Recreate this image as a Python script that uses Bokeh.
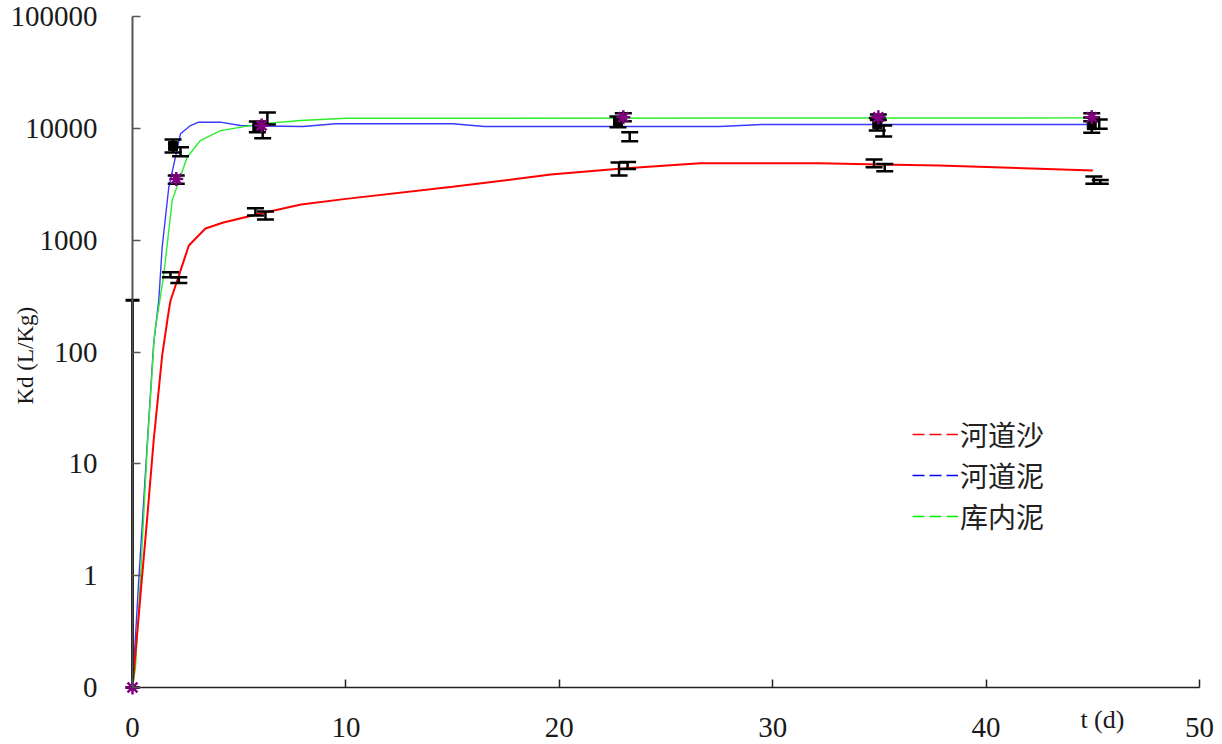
import numpy as np
from bokeh.plotting import figure
from bokeh.models import (FixedTicker, CustomJSTickFormatter, Label, Legend,
                          LegendItem, Range1d)
from bokeh.embed import file_html
from bokeh.resources import INLINE

# ---------------- data ----------------
x_ticks = [0, 10, 20, 30, 40, 50]
y_ticks = [0.1, 1, 10, 100, 1000, 10000, 100000]
y_tick_labels = ["0", "1", "10", "100", "1000", "10000", "100000"]

legend_names = ["河道沙", "河道泥", "库内泥"]
legend_colors = ["#ff0000", "#0000ff", "#00ee00"]

# fitted curves
red_curve_t = [0, 0.38, 0.69, 0.99, 1.39, 1.70, 1.78, 2.64, 3.42, 4.26, 6.0, 7.9,
               10, 15, 19.6, 22.8, 26.6, 32.2, 35.0, 37.8, 45.0]
red_curve_kd = [0.1, 0.69, 3.3, 16, 93, 234, 287, 895, 1270, 1440, 1730, 2080,
                2340, 3000, 3860, 4345, 4880, 4880, 4745, 4650, 4190]

blue_curve_t = [0, 0.30, 0.69, 0.99, 1.23, 1.39, 1.70, 2.25, 2.72, 3.1, 4.12, 5.06,
                6.0, 8.0, 9.5, 15.0, 16.5, 27.5, 29.5, 45.0]
blue_curve_kd = [0.1, 0.96, 15, 118, 288, 863, 2970, 8930, 10590, 11350, 11350, 10590,
                 10500, 10400, 11000, 11000, 10400, 10400, 10820, 10820]

green_curve_t = [0, 0.14, 0.375, 0.69, 1.03, 1.28, 1.47, 1.86, 2.56, 3.18, 4.12, 6.0,
                 7.87, 10.0, 45.0]
green_curve_kd = [0.1, 0.15, 0.96, 14, 145, 288, 499, 2260, 5510, 7780, 9550, 10960,
                  11740, 12300, 12400]

# measured points with error bars
blue_a_t = [1.9, 5.85, 22.75, 34.9, 44.95]
blue_a_kd = [6950, 10300, 11430, 10900, 10670]
blue_a_lo = [6070, 9230, 10230, 9580, 9120]
blue_a_hi = [7940, 11500, 12760, 12400, 12500]

blue_b_t = [2.25, 6.1, 23.3, 35.2, 45.3]
blue_b_lo = [5620, 8150, 7670, 8450, 9910]
blue_b_hi = [6780, 10820, 9230, 10600, 12000]

green_t = [0, 2.05, 6.05, 23.0, 34.95, 44.95]
green_kd = [0.1, 3530, 10600, 12570, 12570, 12570]
green_bar_t = [2.05, 6.32, 23.0, 34.95, 44.95]
green_bar_lo = [3190, 10820, 11570, 11900, 11570]
green_bar_hi = [3790, 13830, 13650, 13270, 13650]

red_a_t = [1.78, 5.76, 22.8, 34.75, 45.05]
red_a_lo = [466, 1660, 3790, 4490, 3190]
red_a_hi = [516, 1928, 4940, 5260, 3710]

red_b_t = [2.17, 6.23, 23.2, 35.25, 45.35]
red_b_lo = [415, 1530, 4330, 4130, 3190]
red_b_hi = [466, 1800, 5000, 4810, 3460]

zero_t = [0]
zero_lo = [0.1]
zero_hi = [290]

# ---------------- layout geometry ----------------
X_MIN, X_MAX = 0, 50
Y_MIN, Y_MAX = 0.1, 100000
AXIS_LEFT_PX = 132            # page x of t = 0
AXIS_RIGHT_PX = 1199          # page x of t = 50
AXIS_TOP_PX = 16              # page y of 100000
AXIS_BOTTOM_PX = 687          # page y of the bottom ("0") line
FRAME_W = 1218
FRAME_H = 744
px_per_x = (AXIS_RIGHT_PX - AXIS_LEFT_PX) / (X_MAX - X_MIN)
decade_px = (AXIS_BOTTOM_PX - AXIS_TOP_PX) / 6
x_start = X_MIN - AXIS_LEFT_PX / px_per_x
x_end = X_MAX + (FRAME_W - AXIS_RIGHT_PX) / px_per_x
y_start = Y_MIN * 10 ** (-(FRAME_H - AXIS_BOTTOM_PX) / decade_px)
y_end = Y_MAX * 10 ** (AXIS_TOP_PX / decade_px)

p = figure(frame_width=FRAME_W, frame_height=FRAME_H, y_axis_type="log",
           x_range=Range1d(x_start, x_end), y_range=Range1d(y_start, y_end),
           output_backend="svg", toolbar_location=None, min_border=0)
p.outline_line_color = None
p.grid.visible = False

TICK_FONT = "Liberation Serif"

xa = p.xaxis[0]
xa.fixed_location = Y_MIN
xa.bounds = (X_MIN, X_MAX)
xa.ticker = FixedTicker(ticks=x_ticks)
xa.major_tick_in = 8
xa.major_tick_out = 0
xa.minor_tick_line_color = None
xa.axis_line_color = "#222222"
xa.axis_line_width = 1.5
xa.major_tick_line_color = "#222222"
xa.major_tick_line_width = 1.5
xa.major_label_text_font = TICK_FONT
xa.major_label_text_font_size = "29px"
xa.major_label_text_color = "#1a1a1a"
xa.major_label_standoff = 30

ya = p.yaxis[0]
ya.fixed_location = X_MIN
ya.bounds = (Y_MIN, Y_MAX)
ya.ticker = FixedTicker(ticks=y_ticks)
ya.formatter = CustomJSTickFormatter(
    args=dict(tvals=y_ticks, tlabels=y_tick_labels),
    code="""
    for (let i = 0; i < tvals.length; i++) {
        if (Math.abs(Math.log10(tvals[i]) - Math.log10(tick)) < 1e-6) return tlabels[i];
    }
    return '';
    """)
ya.major_tick_in = 8
ya.major_tick_out = 0
ya.minor_tick_line_color = None
ya.axis_line_color = "#555555"
ya.axis_line_width = 2
ya.major_tick_line_color = "#555555"
ya.major_tick_line_width = 1.5
ya.major_label_text_font = TICK_FONT
ya.major_label_text_font_size = "29px"
ya.major_label_text_color = "#1a1a1a"
ya.major_label_standoff = 35

# curves
p.line(blue_curve_t, blue_curve_kd, line_color="#3a3aff", line_width=1.4)
p.line(green_curve_t, green_curve_kd, line_color="#2aee2a", line_width=1.4)
p.line(red_curve_t, red_curve_kd, line_color="#ff0000", line_width=2)


def errbar(t, lo, hi, width=2.5, cap=17):
    p.segment(x0=t, y0=lo, x1=t, y1=hi, line_color="black", line_width=width)
    p.scatter(x=t, y=lo, marker="dash", size=cap, line_color="black", line_width=width)
    p.scatter(x=t, y=hi, marker="dash", size=cap, line_color="black", line_width=width)


errbar(zero_t, zero_lo, zero_hi, width=3, cap=14)
errbar(red_a_t, red_a_lo, red_a_hi)
errbar(red_b_t, red_b_lo, red_b_hi)
errbar(blue_a_t, blue_a_lo, blue_a_hi)
errbar(blue_b_t, blue_b_lo, blue_b_hi)
errbar(green_bar_t, green_bar_lo, green_bar_hi)

p.scatter(blue_a_t, blue_a_kd, marker="square", size=9, color="black")
p.scatter(green_t, green_kd, marker="asterisk", size=14, line_color="#800080",
          line_width=2.5)

# legend: one box per entry, dashed proxy lines that draw nothing in the plot
legend_centers = [434, 475, 516]
for name, color, yc in zip(legend_names, legend_colors, legend_centers):
    r = p.line(x=np.array([np.nan]), y=np.array([np.nan]), line_color=color,
               line_dash="12 5", line_width=1.5)
    lg = Legend(items=[LegendItem(label=name, renderers=[r])],
                location=(912, FRAME_H - yc - 23),
                padding=0, margin=0, border_line_color=None, background_fill_alpha=0,
                glyph_width=46, glyph_height=46, label_height=46, label_standoff=2,
                label_text_font="Noto Sans CJK SC", label_text_font_size="28px",
                label_text_color="#222222")
    p.add_layout(lg)

# axis titles (inside the widened frame, left of / below the axes)
p.add_layout(Label(x=x_start + 25 / px_per_x, y=92.7, text="Kd (L/Kg)",
                   angle=np.pi / 2, text_align="center", text_baseline="middle",
                   text_font=TICK_FONT, text_font_size="23px", text_color="#1a1a1a"))
p.add_layout(Label(x=45.45, y=0.0515, text="t (d)", text_align="center",
                   text_baseline="middle", text_font=TICK_FONT,
                   text_font_size="26px", text_color="#1a1a1a"))

open("out.html", "w").write(file_html(p, INLINE))
